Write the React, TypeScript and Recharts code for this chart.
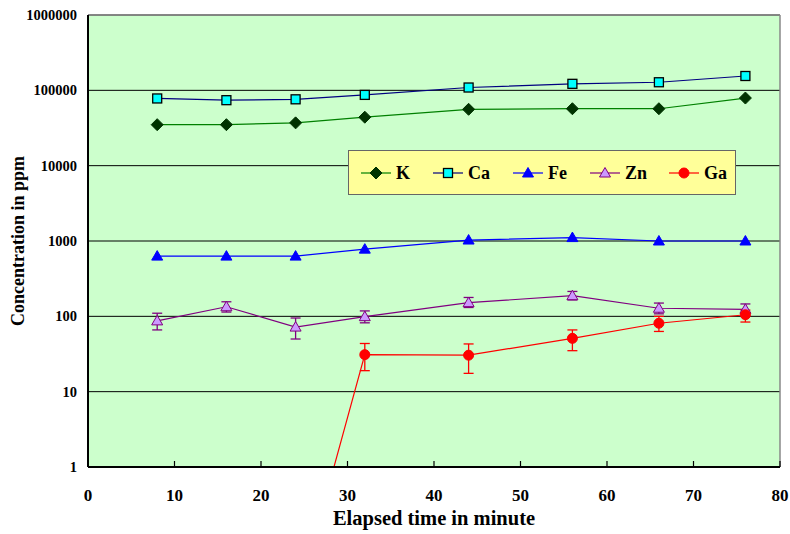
import { LineChart, Line, XAxis, YAxis, CartesianGrid, ErrorBar, Legend, ReferenceLine } from "recharts";

// sampling times (minutes) and measured concentrations (ppm)
const minutes = [8, 16, 24, 32, 44, 56, 66, 76];
const potassium = [35000, 35000, 37000, 44000, 56000, 57000, 57000, 79000];
const calcium = [78000, 74000, 76000, 87000, 109000, 122000, 128000, 155000];
const iron = [630, 630, 630, 780, 1030, 1110, 1000, 1000];
const zinc = [87, 134, 72, 99, 152, 188, 128, 124];
const zincLow = [66, 114, 50, 82, 131, 165, 108, 108];
const zincHigh = [110, 156, 95, 118, 178, 214, 150, 146];
const gallium = [null, null, 0.014, 31, 30.5, 51, 81, 105];
const galliumLow = [null, null, null, 19, 17.5, 35, 63, 84];
const galliumHigh = [null, null, null, 43.6, 43, 66, 100, 121];

const xTicks = [0, 10, 20, 30, 40, 50, 60, 70, 80];
const yTicks = [1, 10, 100, 1000, 10000, 100000, 1000000];

const FONT = "'Liberation Serif', 'Times New Roman', serif";

const errPair = (v: number | null, lo: number | null, hi: number | null) =>
  v == null || lo == null || hi == null ? undefined : [v - lo, hi - v];

const data = minutes.map((t, i) => ({
  t,
  K: potassium[i],
  Ca: calcium[i],
  Fe: iron[i],
  Zn: zinc[i],
  ZnErr: errPair(zinc[i], zincLow[i], zincHigh[i]),
  Ga: gallium[i],
  GaErr: errPair(gallium[i], galliumLow[i], galliumHigh[i]),
}));

type Shape = "diamond" | "square" | "triangle" | "circle";

const series: { key: string; line: string; fill: string; stroke: string; shape: Shape }[] = [
  { key: "K", line: "#008000", fill: "#003300", stroke: "#003300", shape: "diamond" },
  { key: "Ca", line: "#000080", fill: "#00FFFF", stroke: "#000000", shape: "square" },
  { key: "Fe", line: "#0000FF", fill: "#0000FF", stroke: "#0000FF", shape: "triangle" },
  { key: "Zn", line: "#800080", fill: "#CC99FF", stroke: "#800080", shape: "triangle" },
  { key: "Ga", line: "#FF0000", fill: "#FF0000", stroke: "#FF0000", shape: "circle" },
];

function Marker({ cx, cy, shape, fill, stroke }: { cx: number; cy: number; shape: Shape; fill: string; stroke: string }) {
  if (shape === "diamond")
    return <path d={`M${cx},${cy - 6}L${cx + 6},${cy}L${cx},${cy + 6}L${cx - 6},${cy}Z`} fill={fill} stroke={stroke} />;
  if (shape === "square")
    return <rect x={cx - 4.5} y={cy - 4.5} width={9} height={9} fill={fill} stroke={stroke} strokeWidth={1.3} />;
  if (shape === "triangle")
    return <path d={`M${cx},${cy - 5.5}L${cx + 5.5},${cy + 4}L${cx - 5.5},${cy + 4}Z`} fill={fill} stroke={stroke} strokeWidth={1} />;
  return <circle cx={cx} cy={cy} r={5} fill={fill} stroke={stroke} />;
}

const legendX = [12, 84, 164, 241, 320];

function LegendBox() {
  return (
    <svg width={388} height={45} style={{ display: "block", background: "#FFFF99", border: "1.5px solid #666", boxSizing: "border-box" }}>
      {series.map((s, i) => {
        const x0 = legendX[i];
        return (
          <g key={s.key}>
            <line x1={x0} x2={x0 + 30} y1={22} y2={22} stroke={s.line} strokeWidth={1.2} />
            <Marker cx={x0 + 15} cy={22} shape={s.shape} fill={s.fill} stroke={s.stroke} />
            <text x={x0 + 35} y={28} fontFamily={FONT} fontWeight="bold" fontSize={18} fill="#000">
              {s.key}
            </text>
          </g>
        );
      })}
    </svg>
  );
}

export default function App() {
  return (
    <div style={{ position: "absolute", left: 0, top: 0, width: 790, height: 534, background: "#fff" }}>
      <LineChart width={790} height={534} data={data} margin={{ top: 15, right: 10, left: 0, bottom: 0 }}>
        <CartesianGrid vertical={false} stroke="#000" strokeOpacity={1} fill="#CCFFCC" fillOpacity={1} />
        <XAxis
          dataKey="t"
          type="number"
          domain={[0, 80]}
          ticks={xTicks}
          height={67}
          tickSize={-6}
          tickMargin={28}
          axisLine={{ stroke: "#000", strokeWidth: 2 }}
          tickLine={{ stroke: "#000", strokeWidth: 1.2 }}
          tick={{ fill: "#000", fontFamily: FONT, fontWeight: "bold", fontSize: 17 }}
          label={{
            content: ({ viewBox }: any) => (
              <text x={viewBox.x + viewBox.width / 2} y={525} textAnchor="middle" fontFamily={FONT} fontWeight="bold" fontSize={20.5} fill="#000">
                Elapsed time in minute
              </text>
            ),
          }}
        />
        <YAxis
          scale="log"
          domain={[1, 1000000]}
          allowDataOverflow
          ticks={yTicks}
          width={88}
          tickSize={0}
          tickMargin={11}
          tickLine={false}
          axisLine={{ stroke: "#000", strokeWidth: 2 }}
          tick={{ fill: "#000", fontFamily: FONT, fontWeight: "bold", fontSize: 14.5 }}
          label={{
            content: ({ viewBox }: any) => {
              const cy = viewBox.y + viewBox.height / 2;
              return (
                <text x={18} y={cy} transform={`rotate(-90 18 ${cy})`} textAnchor="middle" dominantBaseline="central" fontFamily={FONT} fontWeight="bold" fontSize={18} fill="#000">
                  Concentration in ppm
                </text>
              );
            },
          }}
        />
        <ReferenceLine y={1000000} stroke="#888" strokeWidth={1.5} />
        <ReferenceLine x={80} stroke="#888" strokeWidth={1.5} />
        <Legend
          layout="horizontal"
          verticalAlign="middle"
          align="center"
          content={() => <LegendBox />}
          wrapperStyle={{ left: 348, top: 150, width: 388, height: 45 }}
        />
        {series.map((s) => (
          <Line
            key={s.key}
            dataKey={s.key}
            name={s.key}
            type="linear"
            stroke={s.line}
            strokeWidth={1.2}
            isAnimationActive={false}
            connectNulls={false}
            dot={(p: any) =>
              p.cx == null || p.cy == null || p.value == null ? (
                <g key={p.key ?? p.index} />
              ) : (
                <g key={p.key ?? p.index}>
                  <Marker cx={p.cx} cy={p.cy} shape={s.shape} fill={s.fill} stroke={s.stroke} />
                </g>
              )
            }
            activeDot={false}
          >
            {s.key === "Zn" && <ErrorBar dataKey="ZnErr" direction="y" width={5} stroke="#800080" strokeWidth={1.3} isAnimationActive={false} />}
            {s.key === "Ga" && <ErrorBar dataKey="GaErr" direction="y" width={5} stroke="#FF0000" strokeWidth={1.3} isAnimationActive={false} />}
          </Line>
        ))}
      </LineChart>
    </div>
  );
}
